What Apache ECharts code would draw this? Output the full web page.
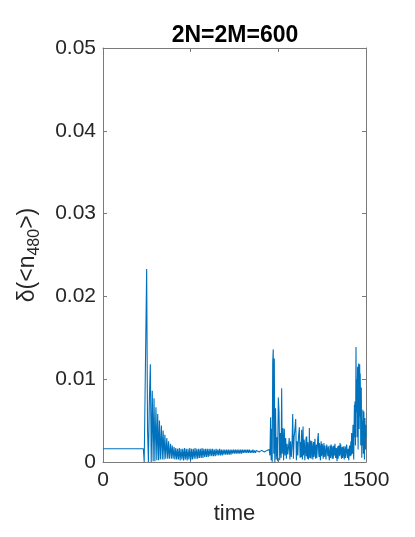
<!DOCTYPE html>
<html>
<head>
<meta charset="utf-8">
<script src="https://cdn.jsdelivr.net/npm/echarts@6/dist/echarts.min.js"></script>
<style>html,body{margin:0;padding:0;background:#fff}#c{width:415px;height:537px}</style>
</head>
<body>
<div id="c"></div>
<script>
const titleText = '2N=2M=600';
const xTicks = [0, 500, 1000, 1500];
const yTicks = [0, 0.01, 0.02, 0.03, 0.04, 0.05];

const flatStart = [[0,0.0016],[230,0.0016]];
const spikeDecay = [
[235,0.0000],[249,0.0233],[254,0.0040],[259,0.0000],[264,0.0070],[270,0.0118],[275,0.0000],
[281,0.0086],[286,0.0001],[291,0.0077],[296,0.0001],[302,0.0066],[307,0.0002],[312,0.0058],
[317,0.0002],[322,0.0050],[327,0.0003],[333,0.0044],[338,0.0003],[343,0.0038],[348,0.0003],
[353,0.0033],[358,0.0004],[364,0.0029],[369,0.0004],[374,0.0025],[379,0.0004],[385,0.0022],
[390,0.0004],[395,0.0020],[400,0.0004],[405,0.0018],[410,0.0003],[415,0.0017]];
const plateau = [
[420,0.0003],[425,0.0016],[430,0.0003],[435,0.0017],[440,0.0002],[445,0.0016],[450,0.0003],
[455,0.0016],[460,0.0002],[465,0.0017],[470,0.0003],[475,0.0016],[480,0.0002],[485,0.0016],
[490,0.0003],[495,0.0017],[500,0.0002],[505,0.0016],[510,0.0003],[515,0.0016],[520,0.0004],
[525,0.0017],[530,0.0004],[535,0.0016],[540,0.0004],[545,0.0016],[550,0.0005],[555,0.0016],
[560,0.0005],[565,0.0017],[570,0.0005],[575,0.0016],[580,0.0006],[585,0.0016],[590,0.0006],
[595,0.0016],[600,0.0006],[605,0.0016],[610,0.0007],[615,0.0016],[620,0.0007],[625,0.0016],
[630,0.0007],[635,0.0015],[640,0.0007],[645,0.0016],[650,0.0008],[655,0.0015],[660,0.0008],
[665,0.0016],[670,0.0008],[675,0.0015],[680,0.0008],[685,0.0015],[690,0.0009],[695,0.0015],
[700,0.0009],[705,0.0015],[710,0.0009],[715,0.0015],[720,0.0009],[725,0.0015],[730,0.0009],
[735,0.0015],[740,0.0010],[745,0.0015],[750,0.0010],[755,0.0015],[760,0.0010],[765,0.0015],
[770,0.0010],[775,0.0015],[780,0.0010],[785,0.0015],[790,0.0010],[795,0.0015],[800,0.0011],
[805,0.0015],[810,0.0011],[815,0.0015],[820,0.0011],[825,0.0015],[830,0.0011],[835,0.0015],
[840,0.0011],[845,0.0014],[850,0.0011],[855,0.0015],[860,0.0011],[865,0.0014],[870,0.0011],
[875,0.0014],[880,0.0012],[885,0.0014],[890,0.0012],[895,0.0014],[900,0.0012],[905,0.0014],
[910,0.0012],[915,0.0014],[920,0.0012],[925,0.0014],[930,0.0012],[935,0.0014]];
const burstOne = [
[940,0.0014],[944,0.0012],[948,0.0015],[952,0.0008],[956,0.0054],[959,0.0002],[962,0.0040],
[965,0.0000],[968,0.0120],[971,0.0136],[974,0.0010],[977,0.0125],[980,0.0000],[984,0.0065],
[988,0.0003],[992,0.0030],[996,0.0001],[1000,0.0078],[1004,0.0060],[1008,0.0002],[1012,0.0035],
[1016,0.0005],[1019,0.0089],[1022,0.0010],[1026,0.0041],[1030,0.0002],[1034,0.0040],[1038,0.0008],
[1042,0.0029],[1046,0.0004],[1050,0.0022],[1054,0.0009],[1058,0.0018],[1062,0.0029],[1066,0.0003],
[1070,0.0025],[1074,0.0006],[1078,0.0020],[1082,0.0058],[1086,0.0004],[1090,0.0030],[1095,0.0041],
[1099,0.0052],[1103,0.0002],[1107,0.0025],[1111,0.0008],[1115,0.0030],[1120,0.0042],[1124,0.0005]];
const noise = [
[1128,0.0024],[1130,0.0006],[1133,0.0039],[1135,0.0012],[1137,0.0003],[1139,0.0021],[1141,0.0043],
[1143,0.0008],[1145,0.0006],[1147,0.0027],[1149,0.0022],[1151,0.0002],[1153,0.0010],[1156,0.0019],
[1158,0.0030],[1160,0.0007],[1162,0.0031],[1164,0.0013],[1166,0.0004],[1168,0.0024],[1170,0.0020],
[1172,0.0003],[1174,0.0008],[1176,0.0016],[1177,0.0041],[1179,0.0009],[1181,0.0005],[1183,0.0018],
[1185,0.0026],[1187,0.0004],[1189,0.0012],[1191,0.0025],[1193,0.0020],[1195,0.0008],[1197,0.0003],
[1199,0.0017],[1201,0.0024],[1203,0.0006],[1205,0.0009],[1207,0.0021],[1209,0.0028],[1211,0.0011],
[1213,0.0004],[1215,0.0015],[1217,0.0021],[1219,0.0005],[1221,0.0011],[1223,0.0019],[1225,0.0029],
[1228,0.0035],[1230,0.0012],[1232,0.0006],[1234,0.0023],[1236,0.0020],[1238,0.0008],[1240,0.0002],
[1242,0.0016],[1244,0.0025],[1246,0.0007],[1248,0.0010],[1250,0.0022],[1252,0.0019],[1254,0.0009],
[1256,0.0004],[1258,0.0015],[1260,0.0023],[1262,0.0006],[1264,0.0012],[1266,0.0020],[1268,0.0018],
[1270,0.0007],[1272,0.0003],[1274,0.0014],[1276,0.0021],[1279,0.0023],[1281,0.0010],[1283,0.0007],
[1285,0.0019],[1287,0.0017],[1289,0.0006],[1291,0.0002],[1293,0.0013],[1295,0.0020],[1297,0.0005],
[1299,0.0010],[1301,0.0021],[1303,0.0018],[1305,0.0008],[1307,0.0004],[1309,0.0015],[1311,0.0019],
[1313,0.0004],[1315,0.0009],[1317,0.0020],[1319,0.0016],[1321,0.0008],[1323,0.0022],[1325,0.0011],
[1327,0.0005],[1329,0.0014],[1331,0.0017],[1333,0.0006],[1335,0.0001],[1337,0.0012],[1339,0.0019],
[1341,0.0004],[1343,0.0010],[1345,0.0020],[1347,0.0016],[1350,0.0007],[1352,0.0023],[1354,0.0009],
[1356,0.0021],[1358,0.0010],[1360,0.0004],[1362,0.0013],[1364,0.0018],[1366,0.0005],[1368,0.0009],
[1370,0.0019],[1372,0.0015],[1374,0.0007],[1376,0.0003],[1378,0.0014],[1380,0.0019],[1382,0.0005],
[1384,0.0008],[1387,0.0017],[1390,0.0021],[1392,0.0009],[1394,0.0005],[1396,0.0013],[1398,0.0016],
[1400,0.0006],[1402,0.0002],[1404,0.0015],[1406,0.0020],[1408,0.0010],[1410,0.0007],[1412,0.0018],
[1414,0.0025]];
const burstTwo = [
[1416,0.0008],[1418,0.0035],[1420,0.0018],[1422,0.0010],[1424,0.0028],[1426,0.0045],[1428,0.0012],
[1430,0.0003],[1432,0.0040],[1434,0.0069],[1436,0.0030],[1437,0.0073],[1439,0.0045],[1440,0.0020],
[1442,0.0095],[1443,0.0139],[1445,0.0060],[1446,0.0080],[1448,0.0100],[1449,0.0030],[1451,0.0070],
[1452,0.0115],[1454,0.0050],[1455,0.0015],[1457,0.0085],[1458,0.0119],[1460,0.0065],[1461,0.0040],
[1463,0.0095],[1464,0.0118],[1466,0.0055],[1467,0.0107],[1469,0.0060],[1470,0.0020],[1472,0.0070],
[1473,0.0090],[1475,0.0030],[1476,0.0005],[1478,0.0035],[1479,0.0050],[1481,0.0020],[1482,0.0063],
[1484,0.0035],[1485,0.0010],[1487,0.0040],[1488,0.0061],[1490,0.0025],[1491,0.0003],[1493,0.0030],
[1494,0.0053],[1496,0.0020],[1497,0.0015],[1499,0.0045],[1500,0.0030]];

const signal = [].concat(flatStart, spikeDecay, plateau, burstOne, noise, burstTwo);

const FONT = "'Liberation Sans', Arial, Helvetica, sans-serif";
const TXT = '#262626';
const AX = '#7a7a7a';

function axisBase(extra) {
  return Object.assign({
    type: 'value',
    axisLine: { show: true, onZero: false, lineStyle: { color: AX, width: 1 } },
    axisTick: { show: true, inside: true, length: 4, lineStyle: { color: AX, width: 1 } },
    splitLine: { show: false },
    axisLabel: { show: false }
  }, extra);
}

const chart = echarts.init(document.getElementById('c'), null, { renderer: 'canvas' });
chart.setOption({
  animation: false,
  backgroundColor: '#fff',
  textStyle: { fontFamily: FONT },
  title: {
    text: titleText, left: 230, top: 19, textAlign: 'center',
    textStyle: { fontFamily: FONT, fontSize: 23, fontWeight: 'bold', color: '#000' }
  },
  grid: { left: 103, right: 49, top: 48, bottom: 75, containLabel: false },
  xAxis: [
    axisBase({
      position: 'bottom', min: xTicks[0], max: xTicks[xTicks.length - 1], interval: 500,
      axisLabel: { show: true, fontSize: 21, color: TXT, fontFamily: FONT, margin: 8,
        formatter: v => String(v) },
      name: 'time', nameLocation: 'middle', nameGap: 41,
      nameTextStyle: { fontSize: 22, color: TXT, fontFamily: FONT }
    }),
    axisBase({ position: 'top', min: xTicks[0], max: xTicks[xTicks.length - 1], interval: 500 })
  ],
  yAxis: [
    axisBase({
      position: 'left', min: yTicks[0], max: yTicks[yTicks.length - 1], interval: 0.01,
      axisLabel: {
        show: true, fontSize: 21, color: TXT, fontFamily: FONT, margin: 7,
        formatter: v => (v === 0 ? '0' : v.toFixed(2))
      },
      name: 'δ(<n{sub|480}>)', nameLocation: 'middle', nameGap: 60, nameRotate: 90,
      nameTextStyle: {
        fontSize: 23, color: TXT, fontFamily: FONT,
        rich: { sub: { fontSize: 16, color: TXT, fontFamily: FONT, verticalAlign: 'bottom', padding: [15, 0, 0, 0] } }
      }
    }),
    axisBase({ position: 'right', min: yTicks[0], max: yTicks[yTicks.length - 1], interval: 0.01 })
  ],
  series: [{
    type: 'line',
    data: signal,
    xAxisIndex: 0, yAxisIndex: 0,
    showSymbol: false, symbol: 'none',
    sampling: null,
    lineStyle: { color: '#0072BD', width: 1.1 },
    silent: true
  }]
});
</script>
</body>
</html>
